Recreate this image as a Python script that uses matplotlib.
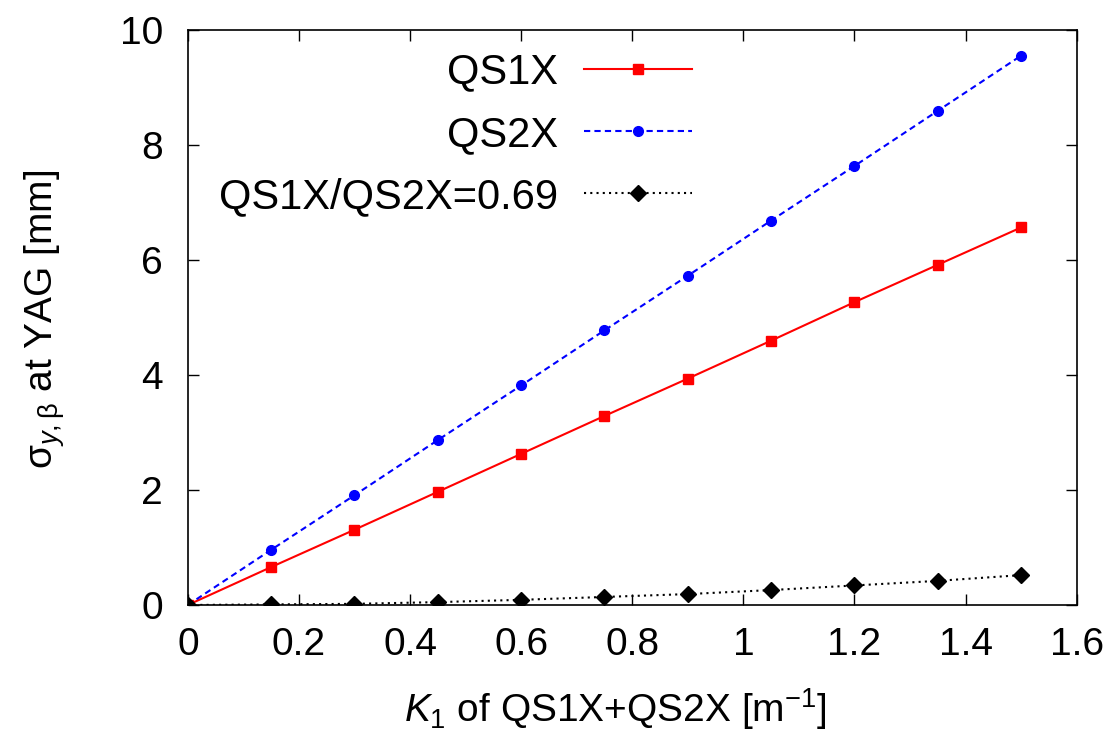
import matplotlib
matplotlib.use('Agg')
import matplotlib.pyplot as plt
import numpy as np

plt.rcParams['font.family'] = ['Liberation Sans', 'DejaVu Sans']
plt.rcParams['mathtext.fontset'] = 'custom'
plt.rcParams['mathtext.rm'] = 'Liberation Sans'
plt.rcParams['mathtext.it'] = 'Liberation Sans:italic'
plt.rcParams['mathtext.bf'] = 'Liberation Sans:bold'

# K1 of QS1X+QS2X [m^-1]
k1 = [0, 0.15, 0.3, 0.45, 0.6, 0.75, 0.9, 1.05, 1.2, 1.35, 1.5]
# sigma_y,beta at YAG [mm]
qs1x = [0, 0.66, 1.31, 1.97, 2.63, 3.29, 3.94, 4.60, 5.27, 5.92, 6.57]
qs2x = [0, 0.96, 1.91, 2.87, 3.82, 4.78, 5.73, 6.69, 7.64, 8.60, 9.56]
ratio = [0, 0.01, 0.02, 0.05, 0.09, 0.14, 0.19, 0.26, 0.34, 0.42, 0.52]

fs = 28

fig = plt.figure(figsize=(11.18, 7.32), dpi=100)
ax = fig.add_axes([0.168, 0.1735, 0.795, 0.785])

ax.plot(k1, qs1x, color='#ff0000', lw=1.5, marker='s', ms=7, label='QS1X')
ax.plot(k1, qs2x, color='#0000ff', lw=1.5, ls=(0, (3, 2)), marker='o', ms=7, label='QS2X')
ax.plot(k1, ratio, color='black', lw=1.5, ls=(0, (1, 2)), marker='D', ms=8.5, label='QS1X/QS2X=0.69')

ax.set_xlim(0, 1.6)
ax.set_ylim(0, 10)
ax.set_xticks(np.arange(0, 1.61, 0.2))
ax.set_xticklabels(['0', '0.2', '0.4', '0.6', '0.8', '1', '1.2', '1.4', '1.6'])
ax.set_yticks([0, 2, 4, 6, 8, 10])
ax.tick_params(direction='in', length=8, width=1, top=True, right=True, labelsize=fs)
ax.tick_params(axis='x', pad=16)
ax.tick_params(axis='y', pad=18)
for s in ax.spines.values():
    s.set_linewidth(1.2)

ax.set_xlabel(r'$K_1$ of QS1X+QS2X [m$^{-1}$]', fontsize=fs)
ax.set_ylabel(r'σ$_{y,\mathrm{β}}$ at YAG [mm]', fontsize=fs)
ax.xaxis.set_label_coords(0.481, -0.142)
ax.yaxis.set_label_coords(-0.136, 0.497)

ax.legend(loc='upper right', bbox_to_anchor=(0.619, 0.928), bbox_transform=fig.transFigure,
          frameon=False, markerfirst=False, fontsize=30, handlelength=2.6,
          borderpad=0, borderaxespad=0, labelspacing=0.53, handletextpad=0.62)

plt.savefig('out.png', dpi=100)
